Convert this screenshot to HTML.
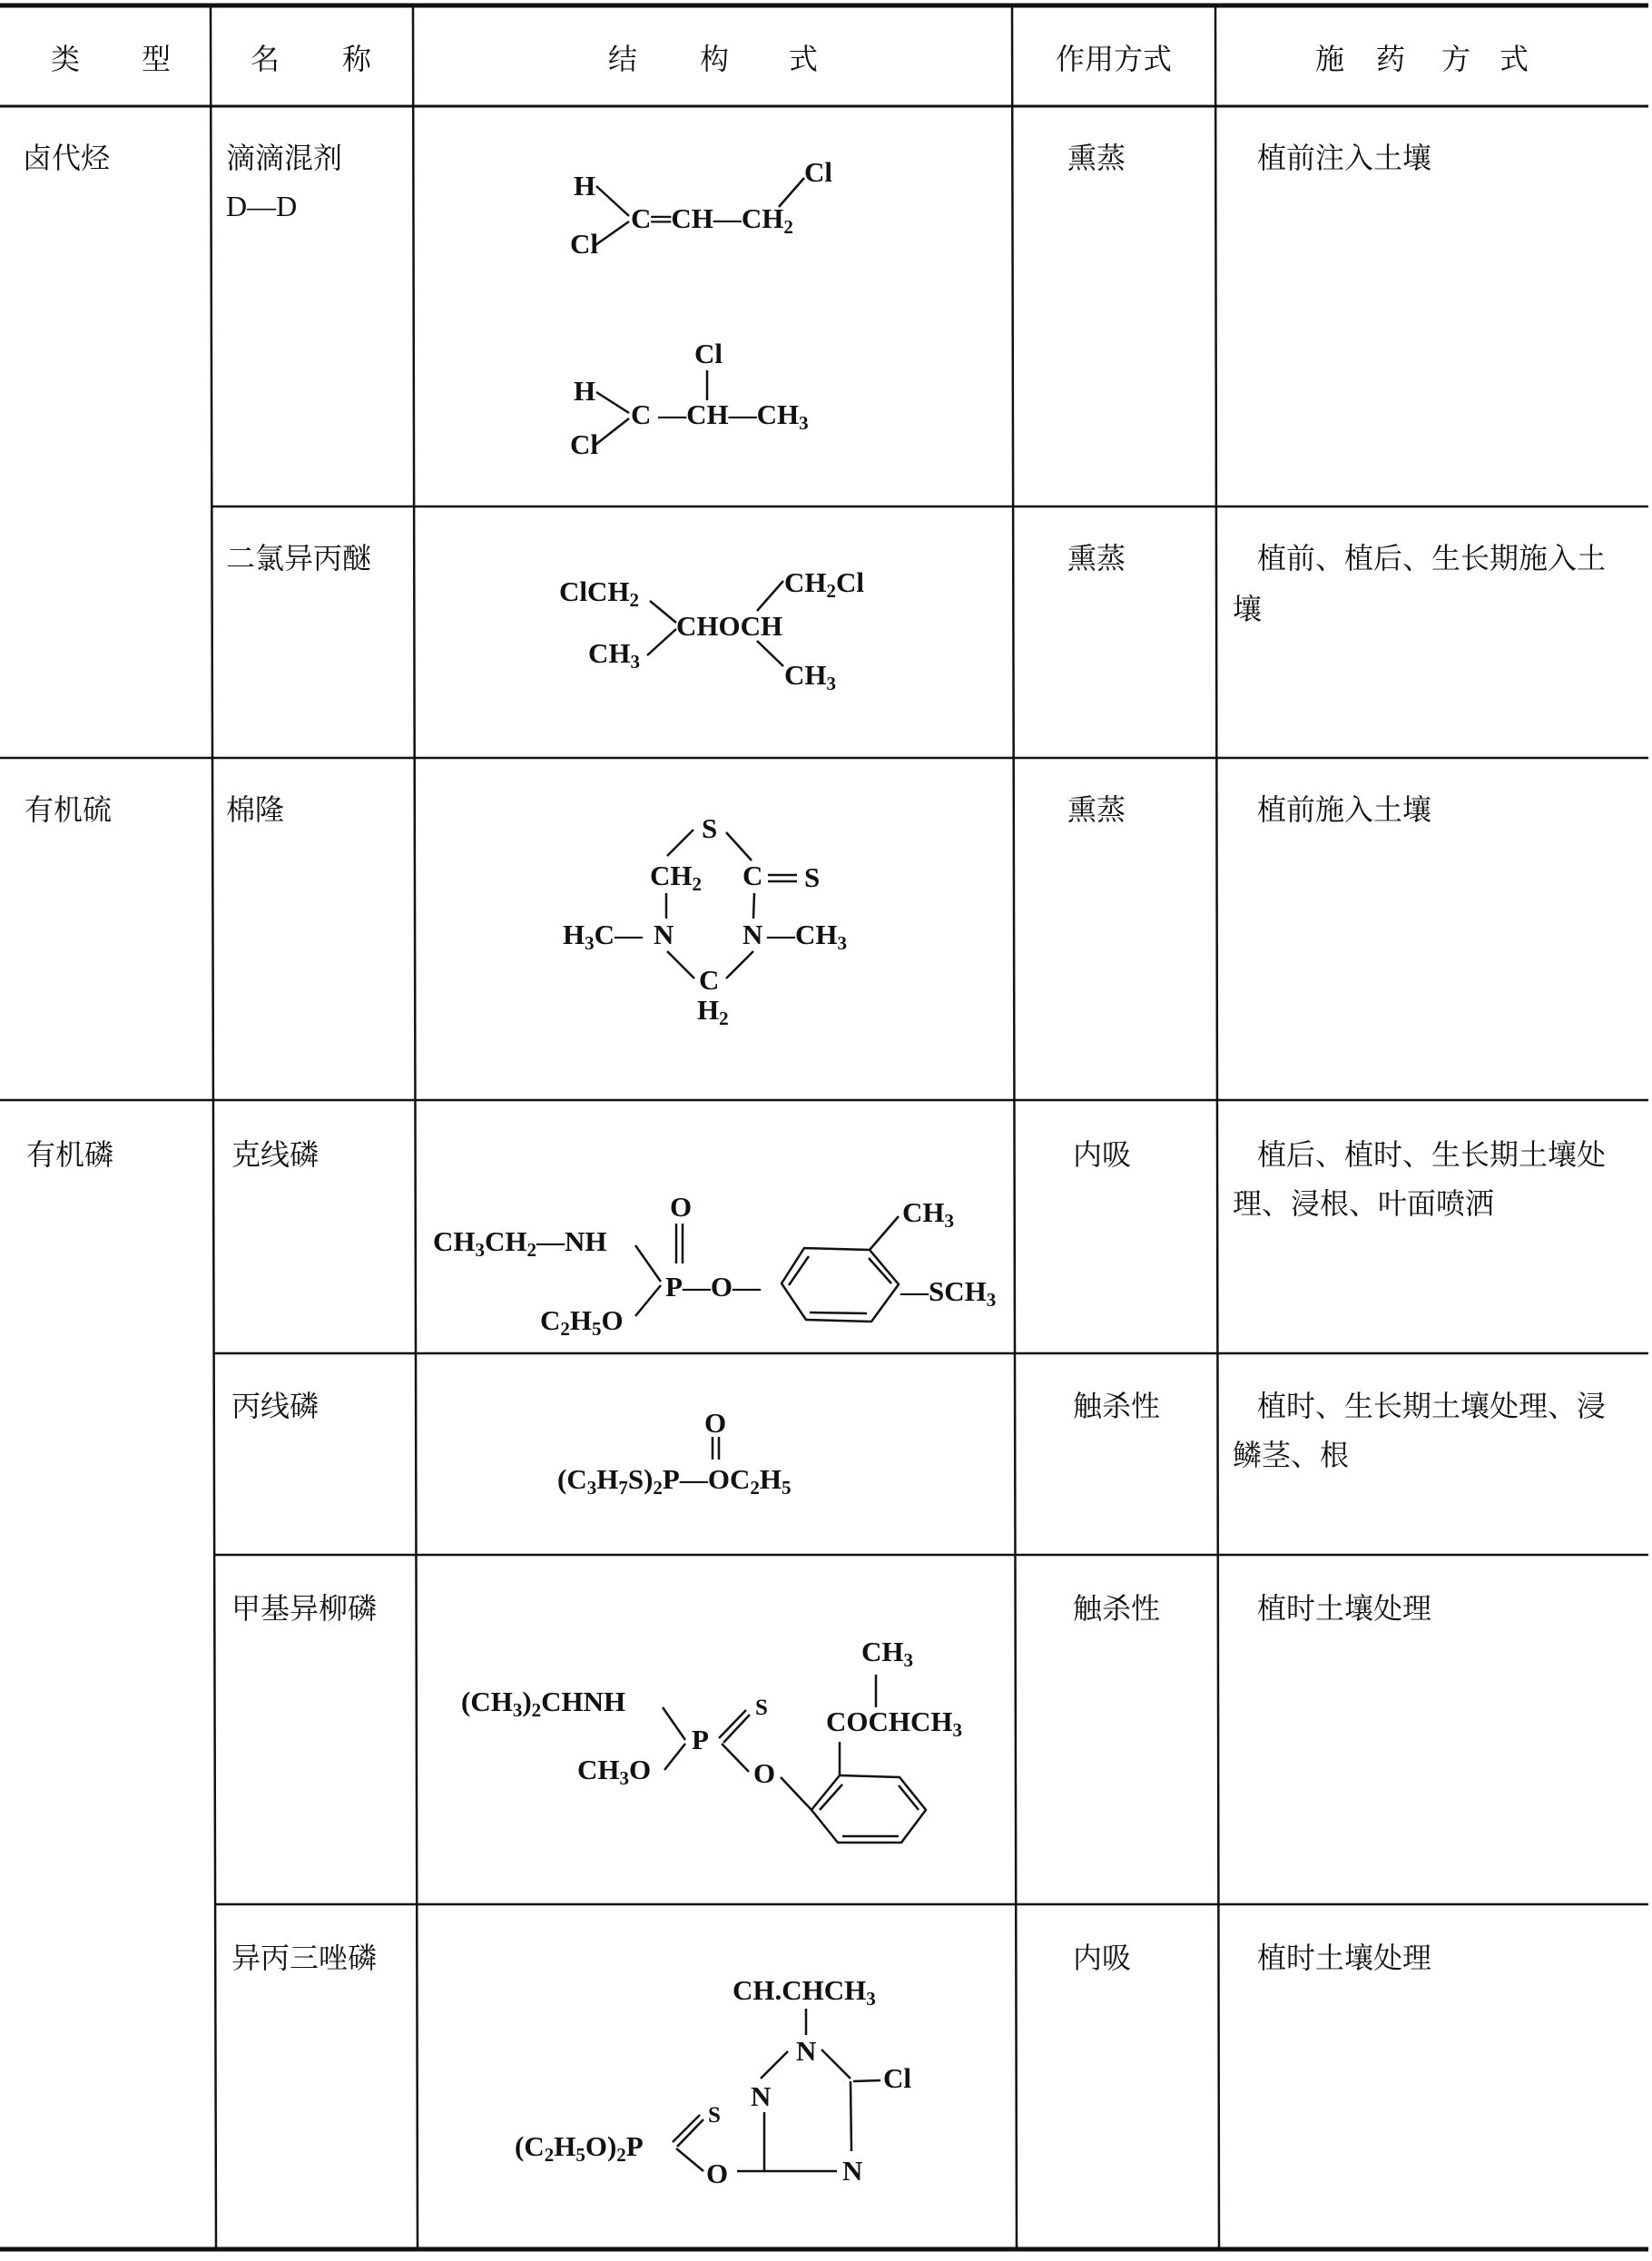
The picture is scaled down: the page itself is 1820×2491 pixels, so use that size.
<!DOCTYPE html>
<html><head><meta charset="utf-8"><style>
html,body{margin:0;padding:0;background:#fff;}
svg{display:block;}
.z{font-family:"Liberation Serif","Noto Serif CJK SC","Noto Sans CJK SC",serif;font-size:32px;fill:#111;}
.c{font-family:"Liberation Serif",serif;font-size:31px;font-weight:bold;fill:#111;}
.s{font-size:21px;}
line,polyline,polygon{stroke:#111;stroke-width:2.5;fill:none;}
</style></head><body>
<svg width="1820" height="2491" viewBox="0 0 1820 2491" xmlns="http://www.w3.org/2000/svg">
<line x1="0" y1="6" x2="1816" y2="6" style="stroke-width:5"/>
<line x1="0" y1="117" x2="1816" y2="117" style="stroke-width:3"/>
<line x1="233" y1="558" x2="1816" y2="558"/>
<line x1="0" y1="835" x2="1816" y2="835"/>
<line x1="0" y1="1212" x2="1816" y2="1212"/>
<line x1="236" y1="1491" x2="1816" y2="1491"/>
<line x1="236" y1="1713" x2="1816" y2="1713"/>
<line x1="237" y1="2098" x2="1816" y2="2098"/>
<line x1="0" y1="2478" x2="1816" y2="2478" style="stroke-width:5"/>
<line x1="232" y1="6" x2="238" y2="2478"/>
<line x1="455" y1="6" x2="460" y2="2478"/>
<line x1="1115" y1="6" x2="1120" y2="2478"/>
<line x1="1339" y1="6" x2="1343" y2="2478"/>

<text class="z" x="56" y="76">类</text><text class="z" x="156" y="76">型</text>
<text class="z" x="276" y="76">名</text><text class="z" x="377" y="76">称</text>
<text class="z" x="670" y="76">结</text><text class="z" x="771" y="76">构</text><text class="z" x="869" y="76">式</text>
<text class="z" x="1163" y="76">作用方式</text>
<text class="z" x="1449" y="76">施</text><text class="z" x="1516" y="76">药</text><text class="z" x="1588" y="76">方</text><text class="z" x="1652" y="76">式</text>

<text class="z" x="25" y="185">卤代烃</text>
<text class="z" x="249" y="185">滴滴混剂</text>
<text class="z" x="249" y="238">D—D</text>
<text class="z" x="1176" y="185">熏蒸</text>
<text class="z" x="1385" y="185">植前注入土壤</text>

<text class="c" x="632" y="215">H</text>
<text class="c" x="886" y="200">Cl</text>
<text class="c" x="695" y="251">C═CH—CH<tspan class="s" dy="6">2</tspan></text>
<text class="c" x="628" y="279">Cl</text>
<line x1="657" y1="205" x2="693" y2="238"/>
<line x1="656" y1="270" x2="693" y2="244"/>
<line x1="886" y1="196" x2="858" y2="228"/>

<text class="c" x="765" y="400">Cl</text>
<line x1="779" y1="408" x2="779" y2="441"/>
<text class="c" x="632" y="441">H</text>
<text class="c" x="695" y="467">C —CH—CH<tspan class="s" dy="6">3</tspan></text>
<text class="c" x="628" y="500">Cl</text>
<line x1="657" y1="432" x2="693" y2="455"/>
<line x1="656" y1="490" x2="693" y2="461"/>

<text class="z" x="249" y="626">二氯异丙醚</text>
<text class="z" x="1176" y="626">熏蒸</text>
<text class="z" x="1385" y="626">植前、植后、生长期施入土</text>
<text class="z" x="1358" y="682">壤</text>
<text class="c" x="616" y="662">ClCH<tspan class="s" dy="6">2</tspan></text>
<text class="c" x="864" y="652">CH<tspan class="s" dy="6">2</tspan><tspan dy="-6">Cl</tspan></text>
<text class="c" x="745" y="700">CHOCH</text>
<text class="c" x="648" y="730">CH<tspan class="s" dy="6">3</tspan></text>
<text class="c" x="864" y="754">CH<tspan class="s" dy="6">3</tspan></text>
<line x1="716" y1="662" x2="745" y2="686"/>
<line x1="713" y1="722" x2="745" y2="693"/>
<line x1="863" y1="640" x2="834" y2="673"/>
<line x1="834" y1="706" x2="863" y2="734"/>

<text class="z" x="27" y="903">有机硫</text>
<text class="z" x="249" y="903">棉隆</text>
<text class="z" x="1176" y="903">熏蒸</text>
<text class="z" x="1385" y="903">植前施入土壤</text>
<text class="c" x="773" y="923">S</text>
<line x1="764" y1="914" x2="735" y2="943"/>
<line x1="800" y1="917" x2="828" y2="948"/>
<text class="c" x="716" y="975">CH<tspan class="s" dy="6">2</tspan></text>
<text class="c" x="818" y="975">C</text>
<line x1="846" y1="964" x2="878" y2="964"/><line x1="846" y1="971" x2="878" y2="971"/>
<text class="c" x="886" y="977">S</text>
<line x1="734" y1="984" x2="734" y2="1012"/>
<line x1="831" y1="984" x2="830" y2="1012"/>
<text class="c" x="620" y="1040">H<tspan class="s" dy="6">3</tspan><tspan dy="-6">C—</tspan></text>
<text class="c" x="720" y="1040">N</text>
<text class="c" x="818" y="1040">N</text>
<text class="c" x="845" y="1040">—CH<tspan class="s" dy="6">3</tspan></text>
<line x1="735" y1="1048" x2="765" y2="1078"/>
<line x1="830" y1="1048" x2="800" y2="1078"/>
<text class="c" x="770" y="1090">C</text>
<text class="c" x="768" y="1123">H<tspan class="s" dy="6">2</tspan></text>

<text class="z" x="29" y="1283">有机磷</text>
<text class="z" x="255" y="1283">克线磷</text>
<text class="z" x="1182" y="1283">内吸</text>
<text class="z" x="1385" y="1283">植后、植时、生长期土壤处</text>
<text class="z" x="1358" y="1337">理、浸根、叶面喷洒</text>
<text class="c" x="477" y="1378">CH<tspan class="s" dy="6">3</tspan><tspan dy="-6">CH</tspan><tspan class="s" dy="6">2</tspan><tspan dy="-6">—NH</tspan></text>
<text class="c" x="738" y="1340">O</text>
<line x1="745" y1="1348" x2="745" y2="1392"/><line x1="752" y1="1348" x2="752" y2="1392"/>
<text class="c" x="733" y="1428">P—O—</text>
<text class="c" x="595" y="1465">C<tspan class="s" dy="6">2</tspan><tspan dy="-6">H</tspan><tspan class="s" dy="6">5</tspan><tspan dy="-6">O</tspan></text>
<line x1="700" y1="1372" x2="728" y2="1412"/>
<line x1="700" y1="1450" x2="728" y2="1416"/>
<polygon points="861,1414 886,1375 958,1377 990,1415 960,1456 888,1454"/>
<line x1="891" y1="1384" x2="869" y2="1416"/>
<line x1="957" y1="1386" x2="982" y2="1414"/>
<line x1="892" y1="1446" x2="955" y2="1447"/>
<line x1="958" y1="1377" x2="990" y2="1340"/>
<text class="c" x="994" y="1346">CH<tspan class="s" dy="6">3</tspan></text>
<text class="c" x="992" y="1433">—SCH<tspan class="s" dy="6">3</tspan></text>

<text class="z" x="255" y="1560">丙线磷</text>
<text class="z" x="1182" y="1560">触杀性</text>
<text class="z" x="1385" y="1560">植时、生长期土壤处理、浸</text>
<text class="z" x="1358" y="1614">鳞茎、根</text>
<text class="c" x="776" y="1578">O</text>
<line x1="785" y1="1583" x2="785" y2="1608"/><line x1="792" y1="1583" x2="792" y2="1608"/>
<text class="c" x="614" y="1640">(C<tspan class="s" dy="6">3</tspan><tspan dy="-6">H</tspan><tspan class="s" dy="6">7</tspan><tspan dy="-6">S)</tspan><tspan class="s" dy="6">2</tspan><tspan dy="-6">P—OC</tspan><tspan class="s" dy="6">2</tspan><tspan dy="-6">H</tspan><tspan class="s" dy="6">5</tspan></text>

<text class="z" x="255" y="1783">甲基异柳磷</text>
<text class="z" x="1182" y="1783">触杀性</text>
<text class="z" x="1385" y="1783">植时土壤处理</text>
<text class="c" x="508" y="1885">(CH<tspan class="s" dy="6">3</tspan><tspan dy="-6">)</tspan><tspan class="s" dy="6">2</tspan><tspan dy="-6">CHNH</tspan></text>
<text class="c" x="832" y="1889" style="font-size:25px">S</text>
<text class="c" x="949" y="1830">CH<tspan class="s" dy="6">3</tspan></text>
<line x1="965" y1="1845" x2="965" y2="1881"/>
<text class="c" x="910" y="1907">COCHCH<tspan class="s" dy="6">3</tspan></text>
<text class="c" x="762" y="1927">P</text>
<text class="c" x="636" y="1960">CH<tspan class="s" dy="6">3</tspan><tspan dy="-6">O</tspan></text>
<text class="c" x="830" y="1964">O</text>
<line x1="730" y1="1881" x2="755" y2="1917"/>
<line x1="732" y1="1950" x2="755" y2="1921"/>
<line x1="792" y1="1915" x2="822" y2="1884"/><line x1="797" y1="1920" x2="826" y2="1889"/>
<line x1="795" y1="1921" x2="825" y2="1952"/>
<line x1="925" y1="1919" x2="925" y2="1956"/>
<line x1="860" y1="1958" x2="894" y2="1994"/>
<polygon points="925,1956 991,1958 1020,1994 993,2030 923,2030 894,1994"/>
<line x1="928" y1="1966" x2="903" y2="1994"/>
<line x1="990" y1="1967" x2="1012" y2="1994"/>
<line x1="928" y1="2023" x2="990" y2="2023"/>

<text class="z" x="255" y="2168">异丙三唑磷</text>
<text class="z" x="1182" y="2168">内吸</text>
<text class="z" x="1385" y="2168">植时土壤处理</text>
<text class="c" x="807" y="2203">CH.CHCH<tspan class="s" dy="6">3</tspan></text>
<line x1="888" y1="2213" x2="888" y2="2242"/>
<text class="c" x="877" y="2270">N</text>
<line x1="868" y1="2260" x2="838" y2="2290"/>
<line x1="905" y1="2258" x2="937" y2="2290"/>
<line x1="940" y1="2293" x2="970" y2="2292"/>
<text class="c" x="973" y="2300">Cl</text>
<text class="c" x="827" y="2320">N</text>
<line x1="937" y1="2293" x2="938" y2="2370"/>
<line x1="842" y1="2327" x2="842" y2="2393"/>
<line x1="812" y1="2392" x2="922" y2="2392"/>
<text class="c" x="780" y="2338" style="font-size:25px">S</text>
<text class="c" x="567" y="2375">(C<tspan class="s" dy="6">2</tspan><tspan dy="-6">H</tspan><tspan class="s" dy="6">5</tspan><tspan dy="-6">O)</tspan><tspan class="s" dy="6">2</tspan><tspan dy="-6">P</tspan></text>
<line x1="741" y1="2360" x2="771" y2="2330"/><line x1="746" y1="2365" x2="775" y2="2335"/>
<line x1="745" y1="2367" x2="775" y2="2392"/>
<text class="c" x="778" y="2405">O</text>
<text class="c" x="928" y="2402">N</text>
</svg>
</body></html>
